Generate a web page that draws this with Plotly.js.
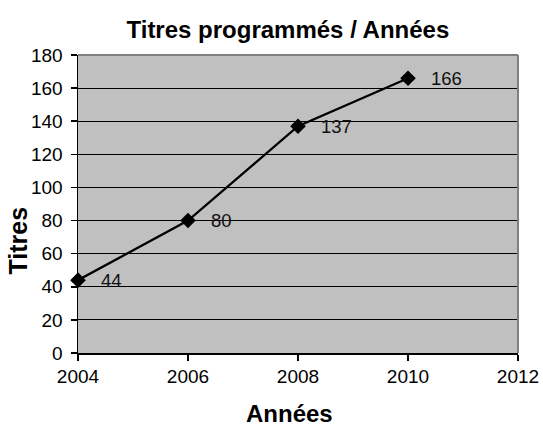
<!DOCTYPE html>
<html>
<head>
<meta charset="utf-8">
<script src="https://cdn.plot.ly/plotly-3.0.1.min.js"></script>
<style>html,body{margin:0;padding:0;background:#fff;}#chart{width:543px;height:427px;}</style>
</head>
<body>
<div id="chart"></div>
<script>
const years = [2004, 2006, 2008, 2010];
const titles = [44, 80, 137, 166];
const xTicks = [2004, 2006, 2008, 2010, 2012];
const yTicks = [0, 20, 40, 60, 80, 100, 120, 140, 160, 180];
const chartTitle = 'Titres programmés / Années';
const xTitle = 'Années';
const yTitle = 'Titres';

const FONT = 'Liberation Sans, Arial, sans-serif';

const trace = {
  x: years,
  y: titles,
  type: 'scatter',
  mode: 'lines+markers',
  line: {color: '#000000', width: 2.3},
  marker: {symbol: 'diamond', size: 12, color: '#000000'},
  hoverinfo: 'none',
  cliponaxis: false
};

const labelAnnotations = years.map((yr, i) => ({
  x: yr, y: titles[i], xref: 'x', yref: 'y',
  text: String(titles[i]), showarrow: false,
  xanchor: 'left', yanchor: 'middle', xshift: 21,
  font: {family: FONT, size: 18.5, color: '#111111'}
}));

const layout = {
  width: 543, height: 427,
  margin: {l: 78, r: 25, t: 55, b: 74},
  paper_bgcolor: '#ffffff',
  plot_bgcolor: '#c0c0c0',
  showlegend: false,
  title: {
    text: '<b>' + chartTitle + '</b>',
    font: {family: FONT, size: 24, color: '#000000'},
    x: 0.477, xref: 'paper', xanchor: 'center',
    y: 1 - 30 / 427, yref: 'container', yanchor: 'middle'
  },
  xaxis: {
    range: [xTicks[0], xTicks[xTicks.length - 1]],
    tickvals: xTicks,
    ticktext: xTicks.map(String),
    ticks: 'outside', ticklen: 6, tickwidth: 1.5, tickcolor: '#000000',
    showline: true, linecolor: '#000000', linewidth: 1.5,
    showgrid: false, zeroline: false,
    tickfont: {family: FONT, size: 19, color: '#000000'}
  },
  yaxis: {
    range: [yTicks[0], yTicks[yTicks.length - 1]],
    tickvals: yTicks,
    ticktext: yTicks.map(String),
    ticks: 'outside', ticklen: 6, tickwidth: 1.5, tickcolor: '#000000',
    showline: true, linecolor: '#000000', linewidth: 1.5,
    showgrid: true, gridcolor: '#000000', gridwidth: 1.2,
    zeroline: false,
    tickfont: {family: FONT, size: 19, color: '#000000'},
    ticklabelstandoff: 4
  },
  shapes: [
    {type: 'line', xref: 'paper', yref: 'paper', x0: 0, x1: 1, y0: 1, y1: 1, line: {color: '#808080', width: 2}, layer: 'above'},
    {type: 'line', xref: 'paper', yref: 'paper', x0: 1, x1: 1, y0: 0, y1: 1, line: {color: '#808080', width: 2}, layer: 'above'}
  ],
  annotations: labelAnnotations.concat([
    {
      text: '<b>' + yTitle + '</b>', xref: 'paper', yref: 'paper',
      x: (17.5 - 78) / 440, y: (353 - 240) / 298,
      xanchor: 'center', yanchor: 'middle', textangle: -90, showarrow: false,
      font: {family: FONT, size: 25, color: '#000000'}
    },
    {
      text: '<b>' + xTitle + '</b>', xref: 'paper', yref: 'paper',
      x: (289 - 78) / 440, y: (353 - 413) / 298,
      xanchor: 'center', yanchor: 'middle', showarrow: false,
      font: {family: FONT, size: 24, color: '#000000'}
    }
  ])
};

Plotly.newPlot('chart', [trace], layout, {staticPlot: true, displayModeBar: false});
</script>
</body>
</html>
